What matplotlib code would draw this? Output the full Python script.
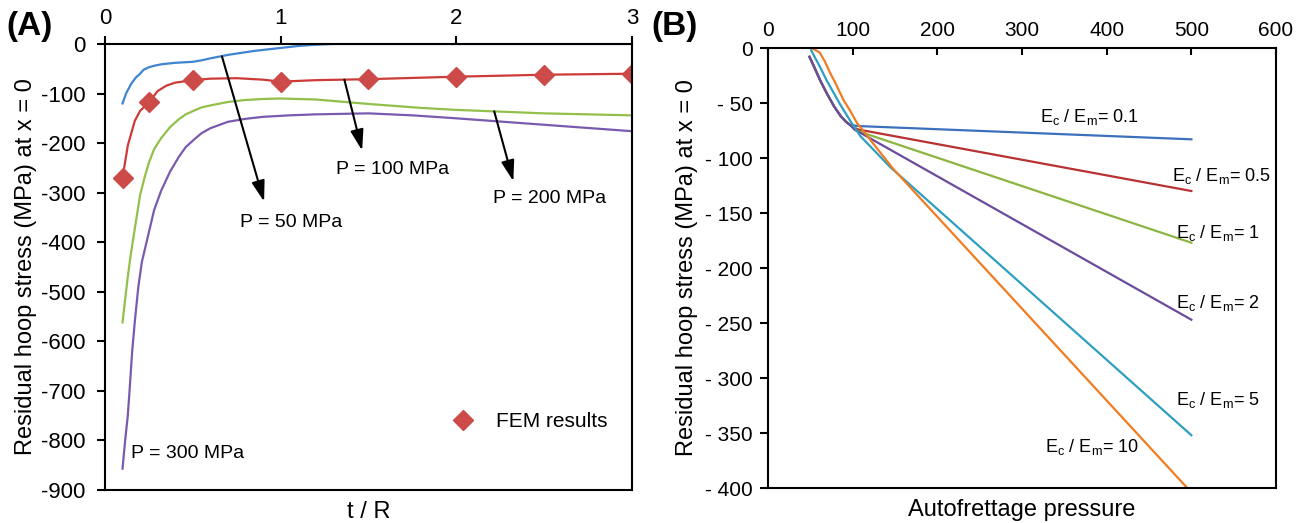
import matplotlib
matplotlib.use('Agg')
import matplotlib.pyplot as plt

plt.rcParams['font.family'] = ['Liberation Sans', 'DejaVu Sans']
plt.rcParams['mathtext.fontset'] = 'custom'
plt.rcParams['mathtext.rm'] = 'Liberation Sans'
plt.rcParams['mathtext.it'] = 'Liberation Sans:italic'
plt.rcParams['axes.unicode_minus'] = False

# ---- (A) residual hoop stress vs t/R ----
a_x_blue = [0.1, 0.12, 0.15, 0.175, 0.2, 0.22, 0.25, 0.28, 0.32, 0.4, 0.5, 0.55, 0.6, 0.7,
            0.85, 1.0, 1.1, 1.2, 1.3, 3.0]
a_blue = [-120, -100, -80, -68, -60, -52, -47, -44, -41, -38, -36, -33, -29, -22,
          -14, -8, -4, -1.5, 0, 0]

a_x_red = [0.1, 0.13, 0.17, 0.2, 0.25, 0.3, 0.35, 0.4, 0.5, 0.6, 0.75, 0.9, 1.0, 1.2,
           1.5, 2.0, 2.5, 3.0]
a_red = [-270, -205, -155, -135, -118, -95, -84, -78, -73, -70, -69, -72, -76, -73,
         -71, -66, -62, -60]

a_x_green = [0.1, 0.115, 0.13, 0.145, 0.16, 0.18, 0.2, 0.225, 0.25, 0.28, 0.32, 0.37,
             0.42, 0.46, 0.51, 0.55, 0.6, 0.7, 0.8, 0.9, 1.0, 1.2, 1.5, 1.8, 2.0, 2.5, 3.0]
a_green = [-562, -515, -470, -430, -395, -350, -305, -270, -240, -212, -190, -168,
           -152, -142, -134, -128, -124, -117, -113, -111, -110, -112, -121, -129, -133, -140, -144]

a_x_purple = [0.1, 0.115, 0.13, 0.14, 0.155, 0.17, 0.19, 0.21, 0.25, 0.28, 0.32, 0.37,
              0.42, 0.46, 0.51, 0.55, 0.6, 0.7, 0.8, 0.9, 1.05, 1.2, 1.5, 1.75, 2.0, 2.5, 3.0]
a_purple = [-857, -800, -750, -700, -620, -560, -490, -440, -380, -335, -296, -258,
            -228, -208, -192, -180, -170, -157, -151, -147, -144, -142, -140, -144, -150, -163, -176]

fem_x = [0.1, 0.25, 0.5, 1.0, 1.5, 2.0, 2.5, 3.0]
fem_y = [-270, -118, -73, -76, -71, -66, -62, -60]

a_xticks = [0, 1, 2, 3]
a_yticks = [0, -100, -200, -300, -400, -500, -600, -700, -800, -900]

# ---- (B) residual hoop stress vs autofrettage pressure ----
b_x_blue = [49, 55, 62, 70, 78, 86, 92, 97, 108, 500]
b_blue = [-8, -18, -30, -42, -53, -62, -67, -70, -71, -83]
b_x_red = [49, 55, 62, 70, 78, 86, 92, 97, 106, 500]
b_red = [-8, -18, -30, -42, -53, -62, -67, -70, -74, -130]
b_x_green = [49, 55, 62, 70, 78, 86, 92, 97, 104, 500]
b_green = [-8, -18, -30, -42, -53, -62, -67, -70, -75, -177]
b_x_purple = [49, 55, 62, 70, 78, 86, 92, 97, 102, 500]
b_purple = [-8, -18, -30, -42, -53, -62, -67, -70, -74, -247]
b_x_cyan = [51, 55, 62, 69, 77, 85, 97, 109, 144, 500]
b_cyan = [-2, -8, -18, -29, -40, -51, -66, -80, -108, -352]
b_x_orange = [51.6, 55, 61, 67, 73, 81, 89, 97, 105, 148, 500]
b_orange = [0, -1.5, -4, -12, -22, -34, -47, -57, -68, -110, -404]

b_xticks = [0, 100, 200, 300, 400, 500, 600]
b_yticks = [0, -50, -100, -150, -200, -250, -300, -350, -400]
b_yticklabels = ['0', '- 50', '- 100', '- 150', '- 200', '- 250', '- 300', '- 350', '- 400']

ratio_labels = ['0.1', '0.5', '1', '2', '5', '10']

fig = plt.figure(figsize=(13.07, 5.23), dpi=100)
axA = fig.add_axes([0.0803, 0.0631, 0.4032, 0.8528])
axB = fig.add_axes([0.5876, 0.0669, 0.3887, 0.8413])

ylabel = 'Residual hoop stress (MPa) at x = 0'

# panel A
axA.plot(a_x_blue, a_blue, color='#3f84d0', lw=1.6)
axA.plot(a_x_red, a_red, color='#cc3b38', lw=1.6)
axA.plot(a_x_green, a_green, color='#92c04a', lw=1.6)
axA.plot(a_x_purple, a_purple, color='#7a5aae', lw=1.6)
axA.plot(fem_x, fem_y, linestyle='none', marker='D', markersize=10,
         color='#cc4a47', label='FEM results')
axA.set_xlim(0, 3)
axA.set_ylim(-900, 0)
axA.set_xticks(a_xticks)
axA.set_yticks(a_yticks)
axA.xaxis.tick_top()
axA.xaxis.set_label_position('bottom')
axA.tick_params(axis='x', labelsize=16, width=1.5, length=6, direction='out', pad=5)
axA.tick_params(axis='y', labelsize=16, width=1.5, length=6, direction='out', pad=8)
axA.set_xlabel('t / R', fontsize=17, labelpad=8)
axA.set_ylabel(ylabel, fontsize=17)
axA.yaxis.set_label_coords(-0.128, 0.5)
for s in axA.spines.values():
    s.set_linewidth(1.5)

arrow = dict(arrowstyle='-|>,head_length=0.7,head_width=0.22', color='black', lw=1.5,
             mutation_scale=18, shrinkA=0, shrinkB=0)
axA.annotate('', xy=(0.906, -318), xytext=(0.666, -25), arrowprops=arrow)
axA.annotate('', xy=(1.464, -215), xytext=(1.363, -72), arrowprops=arrow)
axA.annotate('', xy=(2.325, -277), xytext=(2.216, -136), arrowprops=arrow)
axA.text(1.06, -360, 'P = 50 MPa', fontsize=14, ha='center', va='center')
axA.text(1.64, -254, 'P = 100 MPa', fontsize=14, ha='center', va='center')
axA.text(2.53, -312, 'P = 200 MPa', fontsize=14, ha='center', va='center')
axA.text(0.15, -827, 'P = 300 MPa', fontsize=14, ha='left', va='center')
axA.legend(loc='lower right', fontsize=15, frameon=False, handletextpad=0.6,
           bbox_to_anchor=(0.99, 0.09))
fig.text(0.005, 0.95, '(A)', fontsize=24, fontweight='bold', va='center')

# panel B
b_series = [
    (b_x_blue, b_blue, '#3c70bc'),
    (b_x_red, b_red, '#b83232'),
    (b_x_green, b_green, '#8ab640'),
    (b_x_purple, b_purple, '#6a4b9e'),
    (b_x_cyan, b_cyan, '#2e9fc0'),
    (b_x_orange, b_orange, '#f07c22'),
]
for xs, ys, c in b_series:
    axB.plot(xs, ys, color=c, lw=1.6)
axB.set_xlim(0, 600)
axB.set_ylim(-400, 0)
axB.set_xticks(b_xticks)
axB.set_yticks(b_yticks)
axB.set_yticklabels(b_yticklabels)
axB.xaxis.tick_top()
axB.xaxis.set_label_position('bottom')
axB.tick_params(axis='x', direction='in', labelsize=15, width=1.5, length=5, pad=6)
axB.tick_params(axis='y', direction='out', labelsize=15, width=1.5, length=6, pad=5)
axB.set_xlabel('Autofrettage pressure', fontsize=17, labelpad=8)
axB.set_ylabel(ylabel, fontsize=17)
axB.yaxis.set_label_coords(-0.138, 0.5)
for s in axB.spines.values():
    s.set_linewidth(1.5)

ratio_pos = [(380, -63), (536, -116), (531, -168), (531, -232), (531, -320), (383, -363)]
for lab, (tx, ty) in zip(ratio_labels, ratio_pos):
    axB.text(tx, ty, r'E$_{\rm c}$ / E$_{\rm m}$= ' + lab, fontsize=13,
             ha='center', va='center')
fig.text(0.498, 0.95, '(B)', fontsize=24, fontweight='bold', va='center')

fig.savefig('out.png', dpi=100)
